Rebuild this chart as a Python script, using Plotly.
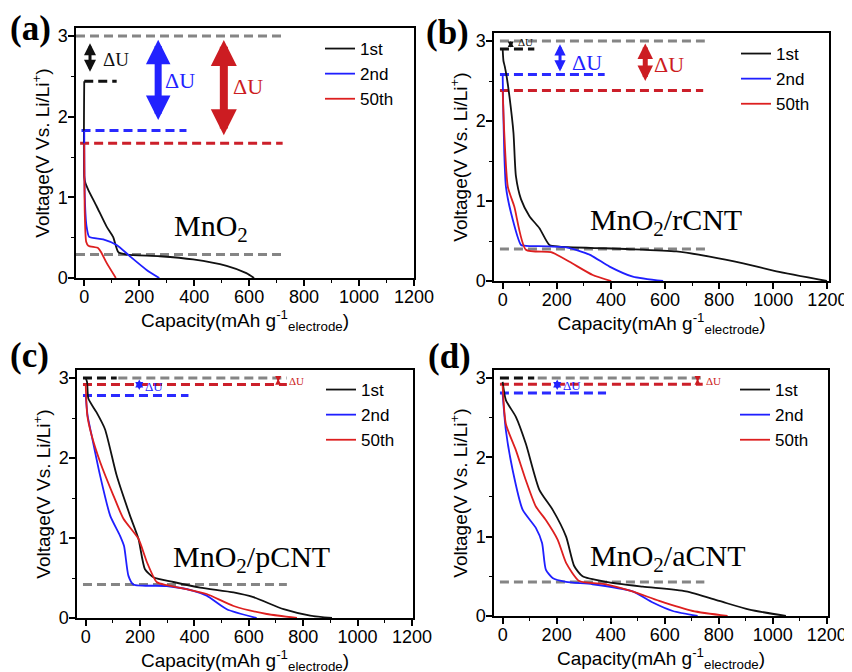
import plotly.graph_objects as go
from plotly.subplots import make_subplots

# ---------------- data ----------------
# Panel (a) MnO2
a_1st_x = [0, 0, 4, 15, 45, 81, 105, 124, 154, 275, 396, 518, 590, 618]
a_1st_y = [2.44, 1.25, 1.18, 1.09, 0.89, 0.64, 0.51, 0.32, 0.29, 0.27, 0.23, 0.15, 0.06, 0]
a_2nd_x = [0, 2, 8, 18, 69, 118, 166, 227, 273]
a_2nd_y = [1.83, 1.0, 0.65, 0.51, 0.48, 0.41, 0.27, 0.10, 0]
a_50_x = [0, 2, 7, 15, 51, 63, 81, 115]
a_50_y = [1.67, 0.8, 0.45, 0.40, 0.37, 0.31, 0.19, 0]

# Panel (b) MnO2/rCNT
b_1st_x = [0, 3, 8, 15, 25, 40, 49, 68, 99, 136, 173, 210, 457, 642, 765, 889, 1012, 1198]
b_1st_y = [2.9, 2.75, 2.68, 2.55, 2.31, 1.85, 1.31, 1.02, 0.81, 0.66, 0.45, 0.43, 0.40, 0.37, 0.305, 0.22, 0.12, 0]
b_2nd_x = [0, 2, 6, 12, 31, 68, 86, 235, 321, 395, 481, 593]
b_2nd_y = [2.58, 2.2, 1.6, 1.18, 0.85, 0.45, 0.44, 0.42, 0.33, 0.18, 0.054, 0]
b_50_x = [0, 6, 19, 43, 86, 179, 247, 333, 401]
b_50_y = [2.38, 1.85, 1.18, 0.93, 0.39, 0.36, 0.24, 0.075, 0]

# Panel (c) MnO2/pCNT
c_1st_x = [0, 5, 10, 40, 71, 114, 163, 194, 218, 249, 323, 421, 544, 617, 728, 826, 906]
c_1st_y = [3.0, 2.95, 2.74, 2.57, 2.36, 1.78, 1.28, 0.99, 0.61, 0.51, 0.45, 0.38, 0.32, 0.26, 0.11, 0.03, 0]
c_2nd_x = [0, 7, 22, 53, 90, 126, 141, 157, 175, 298, 396, 445, 519, 629]
c_2nd_y = [2.78, 2.53, 2.28, 1.78, 1.28, 1.03, 0.90, 0.53, 0.42, 0.40, 0.34, 0.28, 0.11, 0]
c_50_x = [0, 6, 22, 53, 102, 139, 194, 225, 261, 298, 372, 445, 544, 666, 777]
c_50_y = [2.92, 2.53, 2.28, 1.95, 1.53, 1.24, 0.99, 0.70, 0.45, 0.41, 0.36, 0.30, 0.15, 0.05, 0]

# Panel (d) MnO2/aCNT
d_1st_x = [0, 12, 49, 86, 136, 185, 235, 265, 296, 383, 519, 679, 802, 914, 1049]
d_1st_y = [2.95, 2.72, 2.51, 2.17, 1.59, 1.34, 1.00, 0.63, 0.50, 0.43, 0.37, 0.31, 0.19, 0.08, 0]
d_2nd_x = [0, 12, 37, 74, 123, 146, 160, 185, 235, 333, 481, 556, 630, 722]
d_2nd_y = [2.8, 2.34, 1.84, 1.34, 1.11, 0.92, 0.585, 0.48, 0.43, 0.40, 0.31, 0.17, 0.063, 0]
d_50_x = [0, 12, 49, 86, 123, 160, 204, 235, 284, 383, 481, 580, 704, 833]
d_50_y = [2.9, 2.42, 2.09, 1.71, 1.38, 1.21, 0.96, 0.67, 0.44, 0.40, 0.31, 0.19, 0.063, 0]

# dashed reference levels: (level, x start, x end, colour key)
a_ref_level = [3.0, 0.29, 2.44, 1.83, 1.67]
a_ref_x0 = [-30, -30, 0, -10, -15]
a_ref_x1 = [722, 722, 118, 372, 722]
a_ref_kind = ["gray", "gray", "black", "blue", "red"]

b_ref_level = [3.0, 0.40, 2.9, 2.58, 2.38]
b_ref_x0 = [-10, -10, -10, -10, -10]
b_ref_x1 = [747, 753, 117, 377, 741]
b_ref_kind = ["gray", "gray", "black", "blue", "red"]

c_ref_level = [3.0, 0.42, 3.0, 2.92, 2.78]
c_ref_x0 = [120, -10, -10, -10, -10]
c_ref_x1 = [740, 740, 114, 740, 378]
c_ref_kind = ["gray", "gray", "black", "red", "blue"]

d_ref_level = [3.0, 0.43, 3.0, 2.92, 2.81]
d_ref_x0 = [130, -10, -10, -10, -10]
d_ref_x1 = [747, 747, 117, 741, 383]
d_ref_kind = ["gray", "gray", "black", "red", "blue"]

# ΔU arrows: x, y top, y bottom, colour, shaft width, head size
a_arrow_x = [21, 269, 508]
a_arrow_top = [2.91, 2.955, 2.95]
a_arrow_bot = [2.54, 1.94, 1.75]
a_arrow_kind = ["black", "blue", "red"]
a_arrow_w = [3, 7, 8]
a_arrow_hs = [0.8, 0.7, 0.65]
a_lbl_x = [117, 350, 595]
a_lbl_y = [2.71, 2.45, 2.38]
a_lbl_size = [19, 22, 22]

b_arrow_x = [30, 212, 527]
b_arrow_top = [3.0, 2.96, 2.97]
b_arrow_bot = [2.9, 2.6, 2.48]
b_arrow_kind = ["black", "blue", "red"]
b_arrow_w = [2, 3, 5]
b_arrow_hs = [0.6, 0.75, 0.62]
b_lbl_x = [83, 310, 616]
b_lbl_y = [2.99, 2.73, 2.71]
b_lbl_size = [11, 22, 22]

c_arrow_x = [197, 708]
c_arrow_top = [2.98, 2.99]
c_arrow_bot = [2.83, 2.93]
c_arrow_kind = ["blue", "red"]
c_arrow_w = [2, 2]
c_arrow_hs = [0.8, 0.6]
c_lbl_x = [252, 774]
c_lbl_y = [2.895, 2.96]
c_lbl_size = [13, 11]

d_arrow_x = [202, 722]
d_arrow_top = [2.98, 2.99]
d_arrow_bot = [2.83, 2.93]
d_arrow_kind = ["blue", "red"]
d_arrow_w = [2, 2]
d_arrow_hs = [0.8, 0.6]
d_lbl_x = [258, 781]
d_lbl_y = [2.9, 2.96]
d_lbl_size = [13, 11]

sample_names = ["MnO<sub>2</sub>", "MnO<sub>2</sub>/rCNT", "MnO<sub>2</sub>/pCNT", "MnO<sub>2</sub>/aCNT"]
sample_x = [462, 604, 610, 612]
sample_y = [0.62, 0.74, 0.74, 0.73]
panel_tags = ["(a)", "(b)", "(c)", "(d)"]
series_names = ["1st", "2nd", "50th"]

# ---------------- styling ----------------
curve_col = {"1st": "#111111", "2nd": "#1f1fff", "50th": "#dd1f1f"}
ref_col = {"gray": "#858585", "black": "#111111", "blue": "#2a2aff", "red": "#cc1f2a"}
arrow_col = {"black": "#111111", "blue": "#2222ff", "red": "#cc1c22"}

SANS = "Liberation Sans, Arial, sans-serif"
SERIF = "Liberation Serif, Times New Roman, serif"

fig = make_subplots(rows=2, cols=2)

panels = [
    dict(row=1, col=1, curves=[(a_1st_x, a_1st_y), (a_2nd_x, a_2nd_y), (a_50_x, a_50_y)],
         ref=(a_ref_level, a_ref_x0, a_ref_x1, a_ref_kind),
         arr=(a_arrow_x, a_arrow_top, a_arrow_bot, a_arrow_kind, a_arrow_w, a_arrow_hs),
         lbl=(a_lbl_x, a_lbl_y, a_lbl_size)),
    dict(row=1, col=2, curves=[(b_1st_x, b_1st_y), (b_2nd_x, b_2nd_y), (b_50_x, b_50_y)],
         ref=(b_ref_level, b_ref_x0, b_ref_x1, b_ref_kind),
         arr=(b_arrow_x, b_arrow_top, b_arrow_bot, b_arrow_kind, b_arrow_w, b_arrow_hs),
         lbl=(b_lbl_x, b_lbl_y, b_lbl_size)),
    dict(row=2, col=1, curves=[(c_1st_x, c_1st_y), (c_2nd_x, c_2nd_y), (c_50_x, c_50_y)],
         ref=(c_ref_level, c_ref_x0, c_ref_x1, c_ref_kind),
         arr=(c_arrow_x, c_arrow_top, c_arrow_bot, c_arrow_kind, c_arrow_w, c_arrow_hs),
         lbl=(c_lbl_x, c_lbl_y, c_lbl_size)),
    dict(row=2, col=2, curves=[(d_1st_x, d_1st_y), (d_2nd_x, d_2nd_y), (d_50_x, d_50_y)],
         ref=(d_ref_level, d_ref_x0, d_ref_x1, d_ref_kind),
         arr=(d_arrow_x, d_arrow_top, d_arrow_bot, d_arrow_kind, d_arrow_w, d_arrow_hs),
         lbl=(d_lbl_x, d_lbl_y, d_lbl_size)),
]

legend_ids = ["legend", "legend2", "legend3", "legend4"]
annotations = []

for i, p in enumerate(panels):
    r, c = p["row"], p["col"]
    axn = "" if i == 0 else str(i + 1)
    lev, x0s, x1s, kinds = p["ref"]
    for L, x0, x1, k in zip(lev, x0s, x1s, kinds):
        fig.add_trace(go.Scatter(x=[x0, x1], y=[L, L], mode="lines", showlegend=False,
                                 hoverinfo="skip",
                                 line=dict(color=ref_col[k], width=3, dash="9px,5px")),
                      row=r, col=c)
    for name, (xs, ys) in zip(series_names, p["curves"]):
        fig.add_trace(go.Scatter(x=xs, y=ys, mode="lines", name=name,
                                 legend=legend_ids[i],
                                 line=dict(color=curve_col[name], width=1.8,
                                           shape="spline", smoothing=0.6)),
                      row=r, col=c)
    ax_x, ax_t, ax_b, ax_k, ax_w, ax_hs = p["arr"]
    for x, yt, yb, k, w, hs in zip(ax_x, ax_t, ax_b, ax_k, ax_w, ax_hs):
        annotations.append(dict(x=x, y=yt, ax=x, ay=yb, xref="x" + axn, yref="y" + axn,
                                axref="x" + axn, ayref="y" + axn, text="", showarrow=True,
                                arrowhead=2, arrowside="end+start", arrowsize=hs,
                                arrowwidth=w, arrowcolor=arrow_col[k], standoff=0, startstandoff=0))
    lx, ly, ls = p["lbl"]
    for x, y, s, k in zip(lx, ly, ls, ax_k):
        annotations.append(dict(x=x, y=y, xref="x" + axn, yref="y" + axn, text="ΔU",
                                showarrow=False, font=dict(family=SERIF, size=s, color=arrow_col[k])))
    annotations.append(dict(x=sample_x[i], y=sample_y[i], xref="x" + axn, yref="y" + axn,
                            text=sample_names[i], showarrow=False,
                            font=dict(family=SERIF, size=30, color="black")))

# panel geometry (screen pixels of the reference; the page body adds an 8 px margin)
W, H = 852, 672
OFF = 8
px_x = [(76, 414), (494, 829), (77, 413), (494, 828)]
px_y = [(28, 278), (33, 281), (370, 618), (370, 616)]
x_ranges = [[-30, 1200], [-32, 1206], [-32, 1204], [-32, 1205]]
tag_pos = [(8, 28), (424, 33), (8, 355), (426, 356)]
legend_pos = [(320, 31), (736, 36), (321, 372), (735, 372)]
xtitle_standoff = [2, 2, 0, 0]


def fx(px):
    return (px - OFF) / W


def fy(py):
    return 1 - (py - OFF) / H


layout_upd = {}
for i in range(4):
    axn = "" if i == 0 else str(i + 1)
    (x0, x1), (y0, y1) = px_x[i], px_y[i]
    common = dict(showline=True, mirror=True, linecolor="black", linewidth=1.5,
                  ticks="outside", ticklen=6, tickwidth=1.5, tickcolor="black",
                  showgrid=False, zeroline=False, automargin=False,
                  tickfont=dict(family=SANS, size=18, color="black"))
    layout_upd["xaxis" + axn] = dict(common, domain=[fx(x0), fx(x1)], range=x_ranges[i],
                                     tickmode="array", tickvals=[0, 200, 400, 600, 800, 1000, 1200],
                                     ticklabelstandoff=-4,
                                     minor=dict(ticks="outside", ticklen=3, tickwidth=1.2,
                                                tickcolor="black", dtick=100, tick0=0),
                                     title=dict(text="Capacity(mAh g<sup>-1</sup><sub>electrode</sub>)",
                                                font=dict(family=SANS, size=19, color="black"),
                                                standoff=xtitle_standoff[i]))
    layout_upd["yaxis" + axn] = dict(common, domain=[fy(y1), fy(y0)], range=[0, 3.1],
                                     tickmode="array", tickvals=[0, 1, 2, 3],
                                     ticklabelstandoff=-3,
                                     minor=dict(ticks="outside", ticklen=3, tickwidth=1.2,
                                                tickcolor="black", dtick=0.5, tick0=0),
                                     title=dict(text="Voltage(V Vs. Li/Li<sup>+</sup>)",
                                                font=dict(family=SANS, size=19, color="black"),
                                                standoff=3))
    lx, ly = legend_pos[i]
    layout_upd[legend_ids[i]] = dict(x=fx(lx), y=fy(ly), xanchor="left", yanchor="top",
                                     bgcolor="rgba(0,0,0,0)", borderwidth=0,
                                     font=dict(family=SANS, size=17, color="black"),
                                     tracegroupgap=0)
    tx, ty = tag_pos[i]
    annotations.append(dict(x=fx(tx), y=fy(ty), xref="paper", yref="paper",
                            xanchor="left", yanchor="middle", showarrow=False,
                            text="<b>" + panel_tags[i] + "</b>",
                            font=dict(family=SERIF, size=35, color="black")))

fig.update_layout(**layout_upd)
fig.update_layout(width=W, height=H, margin=dict(l=0, r=0, t=0, b=0),
                  paper_bgcolor="white", plot_bgcolor="white",
                  annotations=annotations)

fig.write_html("out.html")
